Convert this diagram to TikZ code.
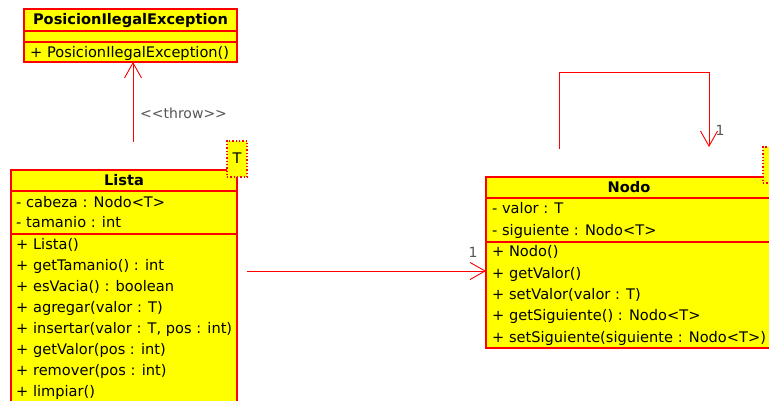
\documentclass[tikz,border=0pt]{standalone}
\usepackage{fontspec}
\setmainfont{DejaVu Sans}
\usetikzlibrary{arrows.meta}
\definecolor{umlred}{RGB}{255,0,0}
\definecolor{umlyellow}{RGB}{255,255,0}
\definecolor{labelgray}{RGB}{85,85,85}
\tikzset{
  classbox/.style={draw=umlred, fill=umlyellow, line width=1.8pt, inner sep=0pt, outer sep=0pt, anchor=north west},
  sepline/.style={draw=umlred, line width=1.4pt},
  member/.style={anchor=west, inner sep=0pt, text height=10.6pt, text depth=0pt, font=\fontsize{14.6}{16}\selectfont},
  titletext/.style={inner sep=0pt, text height=10.6pt, text depth=0pt, font=\fontsize{14.6}{16}\selectfont\bfseries},
  tmplbox/.style={draw=umlred, dotted, line width=1.3pt, fill=umlyellow, inner sep=0pt, outer sep=0pt, anchor=north west},
  conn/.style={draw=umlred, line width=0.9pt},
  openhead/.style={-{Straight Barb[length=15pt,width=17pt,line width=0.9pt]}},
  multlabel/.style={text=labelgray, inner sep=0pt, font=\fontsize{14}{16}\selectfont},
}
\begin{document}
\begin{tikzpicture}[x=1pt,y=-1pt]
\clip (0,0) rectangle (769,401);
\fill[white] (0,0) rectangle (769,401);

% PosicionIlegalException
\node[classbox, minimum width=213pt, minimum height=53pt] (exc) at (24,9) {};
\draw[sepline] (24,31) -- (237,31);
\draw[sepline] (24,42) -- (237,42);
\node[titletext] (exctitle) at (130.5,19.5) {PosicionIlegalException};
\node[member] (excm1) at (30,52) {+ PosicionIlegalException()};

% Lista
\node[classbox, minimum width=226pt, minimum height=250pt] (lista) at (11,170) {};
\draw[sepline] (11,191) -- (237,191);
\draw[sepline] (11,234) -- (237,234);
\node[titletext] (listatitle) at (124,180.5) {Lista};
\node[member] (la1) at (16,202) {- cabeza : Nodo<T>};
\node[member] (la2) at (16,222) {- tamanio : int};
\node[member] (lm1) at (16,244) {+ Lista()};
\node[member] (lm2) at (16,265) {+ getTamanio() : int};
\node[member] (lm3) at (16,286) {+ esVacia() : boolean};
\node[member] (lm4) at (16,307) {+ agregar(valor : T)};
\node[member] (lm5) at (16,328.5) {+ insertar(valor : T, pos : int)};
\node[member] (lm6) at (16,349.5) {+ getValor(pos : int)};
\node[member] (lm7) at (16,370.5) {+ remover(pos : int)};
\node[member] (lm8) at (16,391.5) {+ limpiar()};
\node[tmplbox, minimum width=20pt, minimum height=36pt] (listaT) at (227,141) {};
\node[member, anchor=center] (listaTt) at (237,158) {T};

% Nodo
\node[classbox, minimum width=290pt, minimum height=171pt] (nodo) at (486,177) {};
\draw[sepline] (486,198) -- (776,198);
\draw[sepline] (486,242) -- (776,242);
\node[titletext] (nodotitle) at (629,187.5) {Nodo};
\node[member] (na1) at (492,208.5) {- valor : T};
\node[member] (na2) at (492,230) {- siguiente : Nodo<T>};
\node[member] (nm1) at (492,251.5) {+ Nodo()};
\node[member] (nm2) at (492,272.8) {+ getValor()};
\node[member] (nm3) at (492,294.1) {+ setValor(valor : T)};
\node[member] (nm4) at (492,315.4) {+ getSiguiente() : Nodo<T>};
\node[member] (nm5) at (492,336.7) {+ setSiguiente(siguiente : Nodo<T>)};
\node[tmplbox, minimum width=30pt, minimum height=36pt] (nodoT) at (763,147) {};

% throw dependency
\coordinate (throwstart) at (133,142);
\draw[conn, openhead] (throwstart) -- (throwstart |- exc.south);
\node[multlabel, anchor=west] (throwlbl) at (140,113) {<{}<throw>{}>};

% association Lista -> Nodo
\coordinate (assocstart) at (247,271);
\draw[conn, openhead] (assocstart) -- (assocstart -| nodo.west);
\node[multlabel] (assocmult) at (473,252) {1};

% self association on Nodo
\coordinate (loopstart) at (559,149);
\coordinate (looptop) at (709,72);
\coordinate (loopend) at (709,147);
\draw[conn, openhead] (loopstart) |- (looptop) -- (loopend);
\node[multlabel] (loopmult) at (720,130) {1};
\end{tikzpicture}
\end{document}
